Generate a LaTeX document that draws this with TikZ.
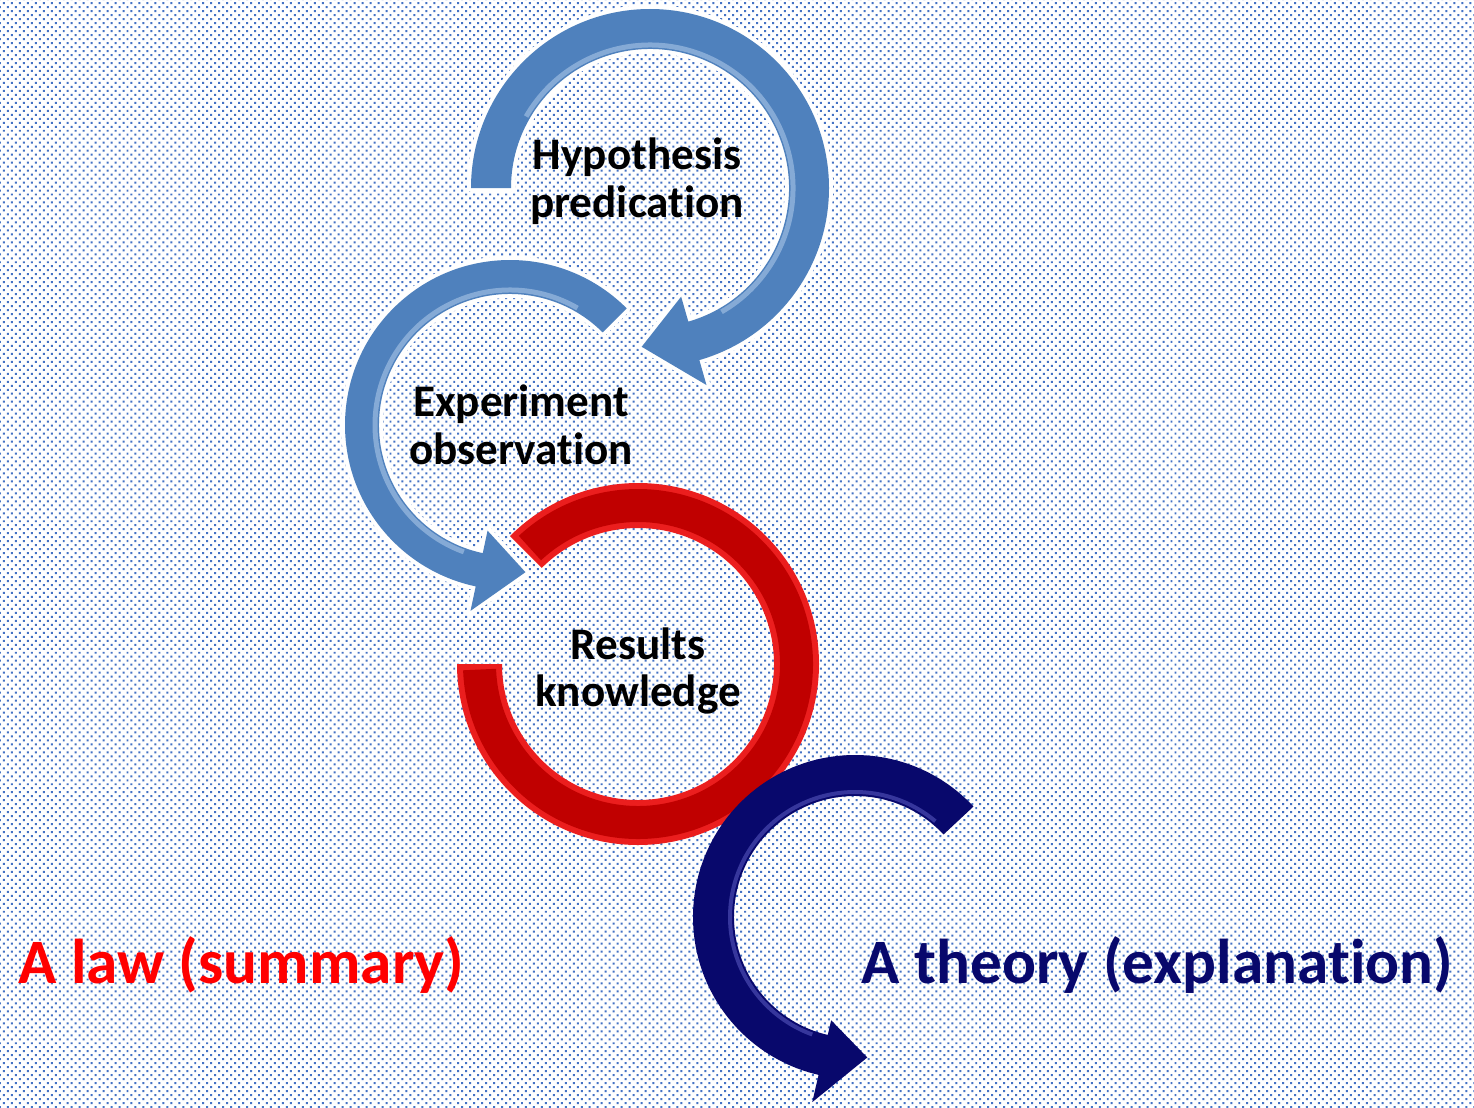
\documentclass[tikz,border=0pt]{standalone}
\usepackage{fontspec}
\setmainfont{Carlito}[Ligatures=NoCommon]
\usepackage{xcolor}
\usepackage{tikz}
\usetikzlibrary{patterns, calc}

\definecolor{dotblue}{RGB}{68,114,196}
\definecolor{arrowblue}{RGB}{79,129,189}
\definecolor{arrowbluehi}{RGB}{200,222,245}
\definecolor{ringred}{RGB}{192,0,0}
\definecolor{ringredhi}{RGB}{235,30,30}
\definecolor{theorynavy}{RGB}{8,8,108}
\definecolor{theorynavyhi}{RGB}{110,110,215}

\pgfdeclarepatternformonly{bgdots}{\pgfpoint{-1pt}{-1pt}}{\pgfpoint{3.5pt}{3.5pt}}{\pgfpoint{4.535pt}{4.535pt}}{%
  \pgfpathrectangle{\pgfpoint{-0.57pt}{-0.57pt}}{\pgfpoint{1.13pt}{1.13pt}}%
  \pgfpathrectangle{\pgfpoint{1.70pt}{1.70pt}}{\pgfpoint{1.13pt}{1.13pt}}%
  \pgfusepath{fill}}

\begin{document}
\begin{tikzpicture}[
  stage/.style={font=\fontsize{25.7}{27.2}\selectfont\bfseries,
                align=center, text=black},
  verdict/.style={font=\fontsize{36}{40}\selectfont\bfseries},
  bluearrow/.style={fill=arrowblue,
                    preaction={draw=white, line width=0.16cm, line join=round}},
  bluehi/.style={draw=arrowbluehi, line width=0.10cm, opacity=0.45},
  navyhi/.style={draw=theorynavyhi, line width=0.08cm, opacity=0.45}
]
%% Background
\useasboundingbox (0,0) rectangle (29.48,-22.14);
\fill[white] (0,0) rectangle (29.48,-22.14);
\fill[pattern=bgdots, pattern color=dotblue] (0,0) rectangle (29.48,-22.14);
%% Centres of the rings
\coordinate (hypc) at (13.0,-3.76);
\coordinate (expc) at (10.2,-8.5);
\coordinate (resc) at (12.76,-13.28);
\coordinate (theoc) at (17.1,-18.34);
%% Hypothesis arrow
\begin{scope}[shift={(hypc)}]
\fill[bluearrow] (180:3.58) arc[start angle=180, end angle=-74, radius=3.58]
  -- (-74:4.10) -- (-93:3.18) -- (-74:2.26) -- (-74:2.78)
  arc[start angle=-74, end angle=180, radius=2.78] -- cycle;
\draw[bluehi] (150:2.86) arc[start angle=150, end angle=-60, radius=2.86];
\end{scope}
%% Experiment arrow
\begin{scope}[shift={(expc)}]
\fill[bluearrow] (45:3.30) arc[start angle=45, end angle=258, radius=3.30]
  -- (258:3.80) -- (276:2.96) -- (258:2.16) -- (258:2.62)
  arc[start angle=258, end angle=45, radius=2.62] -- cycle;
\draw[bluehi] (60:2.70) arc[start angle=60, end angle=250, radius=2.70];
\end{scope}
%% Results ring
\begin{scope}[shift={(resc)}]
\fill[ringredhi] (135:3.62) arc[start angle=135, end angle=-180, radius=3.62]
  -- (-180:2.72) arc[start angle=-180, end angle=135, radius=2.72] -- cycle;
\draw[ringred, line width=0.66cm] (133:3.17) arc[start angle=133, end angle=-178, radius=3.17];
\end{scope}
%% Theory arrow
\begin{scope}[shift={(theoc)}]
\fill[theorynavy] (43:3.24) arc[start angle=43, end angle=257, radius=3.24]
  -- (257:3.80) -- (275:2.82) -- (257:2.12) -- (257:2.42)
  arc[start angle=257, end angle=43, radius=2.42] -- cycle;
\draw[navyhi] (50:2.50) arc[start angle=50, end angle=250, radius=2.50];
\end{scope}
%% Labels
\node[stage] (hyp) at (12.74,-3.62) {Hypothesis\\predication};
\node[stage] (exp) at (10.42,-8.5) {Experiment\\observation};
\node[stage] (res) at (12.76,-13.42) {Results\\knowledge};
\node[verdict, text=red] (law) at (4.83,-19.3) {A law (summary)};
\node[verdict, text=theorynavy] (theory) at (23.15,-19.3) {A theory (explanation)};
\end{tikzpicture}
\end{document}
